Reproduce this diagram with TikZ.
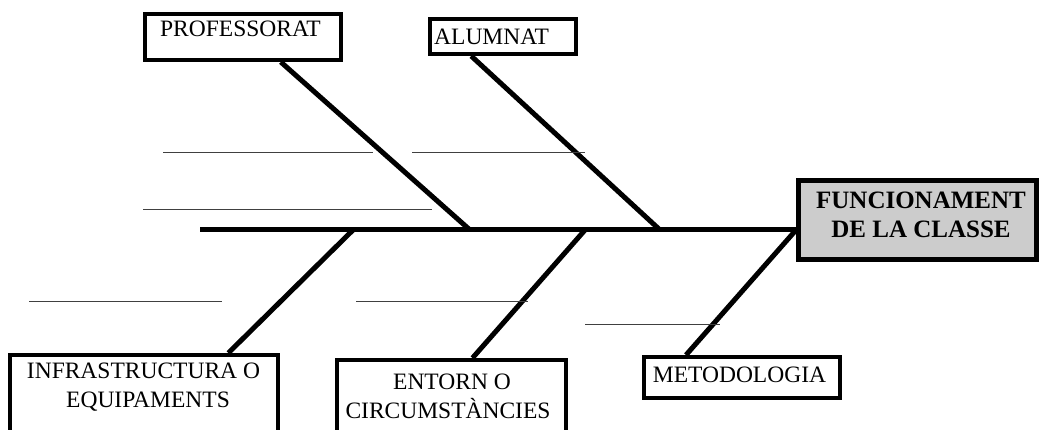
\documentclass[tikz,border=0pt]{standalone}
\usepackage{fontspec}
\setmainfont{Liberation Serif}
\usetikzlibrary{calc}
\pgfdeclarelayer{background}
\pgfsetlayers{background,main}
\begin{document}
\begin{tikzpicture}[x=1pt,y=-1pt,
  box/.style={draw=black, line width=4pt, fill=white, inner sep=0pt},
  headbox/.style={box, line width=5pt, fill=gray!40},
  bone/.style={line width=5pt},
  rib/.style={draw=black!75, line width=1pt},
  lbl/.style={font=\fontsize{23.5}{28}\selectfont, inner sep=0pt, anchor=base},
  headlbl/.style={font=\bfseries\fontsize{25}{29}\selectfont, inner sep=0pt, anchor=base}]
\clip (0,0) rectangle (1042,430);

% effect box at the head of the fish
\node[headbox, minimum width=238pt, minimum height=79pt] (effect) at (917.5,220) {};
\node[headlbl] (effect1) at (921,209) {FUNCIONAMENT};
\node[headlbl] (effect2) at (921,238) {DE LA CLASSE};

% cause boxes
\node[box, minimum width=196pt, minimum height=46pt] (prof) at (243,37) {};
\node[lbl] (profT) at (240.5,37) {PROFESSORAT};

\node[box, minimum width=146pt, minimum height=35pt] (alum) at (503,36.5) {};
\node[lbl, anchor=base west] (alumT) at (434,45) {ALUMNAT};

\node[box, minimum width=268pt, minimum height=85pt] (infra) at (144,397.5) {};
\node[lbl] (infraT1) at (143.5,378) {INFRASTRUCTURA O};
\node[lbl] (infraT2) at (148,407) {EQUIPAMENTS};

\node[box, minimum width=229pt, minimum height=80pt] (entorn) at (451.5,400) {};
\node[lbl] (entornT1) at (452,390) {ENTORN O};
\node[lbl] (entornT2) at (448,418) {CIRCUMSTÀNCIES};

\node[box, minimum width=196pt, minimum height=41pt] (metod) at (742,377.5) {};
\node[lbl] (metodT) at (739.5,382) {METODOLOGIA};

% spine and junction points
\coordinate (tail) at (200,230);
\coordinate (jP) at (470,230);
\coordinate (jA) at (660,230);
\coordinate (jI) at (353,230);
\coordinate (jE) at (585,230);

\begin{pgfonlayer}{background}
  \fill[white] (0,0) rectangle (1042,430);
  \draw[bone] (tail) -- (tail -| effect.west);
  \draw[bone] ($(prof.south west)!0.689!(prof.south east)$) -- (jP);
  \draw[bone] ($(alum.south west)!0.288!(alum.south east)$) -- (jA);
  \draw[bone] ($(infra.north west)!0.81!(infra.north east)$) -- (jI);
  \draw[bone] ($(entorn.north west)!0.59!(entorn.north east)$) -- (jE);
  \draw[bone] ($(metod.north west)!0.22!(metod.north east)$) -- (tail -| effect.west);
\end{pgfonlayer}

% blank lines for writing causes
\draw[rib] (163,153) -- (373,153);
\draw[rib] (412,153) -- (585,153);
\draw[rib] (143,210) -- (432,210);
\draw[rib] (29,302) -- (222,302);
\draw[rib] (356,302) -- (528,302);
\draw[rib] (585,325) -- (720,325);
\end{tikzpicture}
\end{document}
